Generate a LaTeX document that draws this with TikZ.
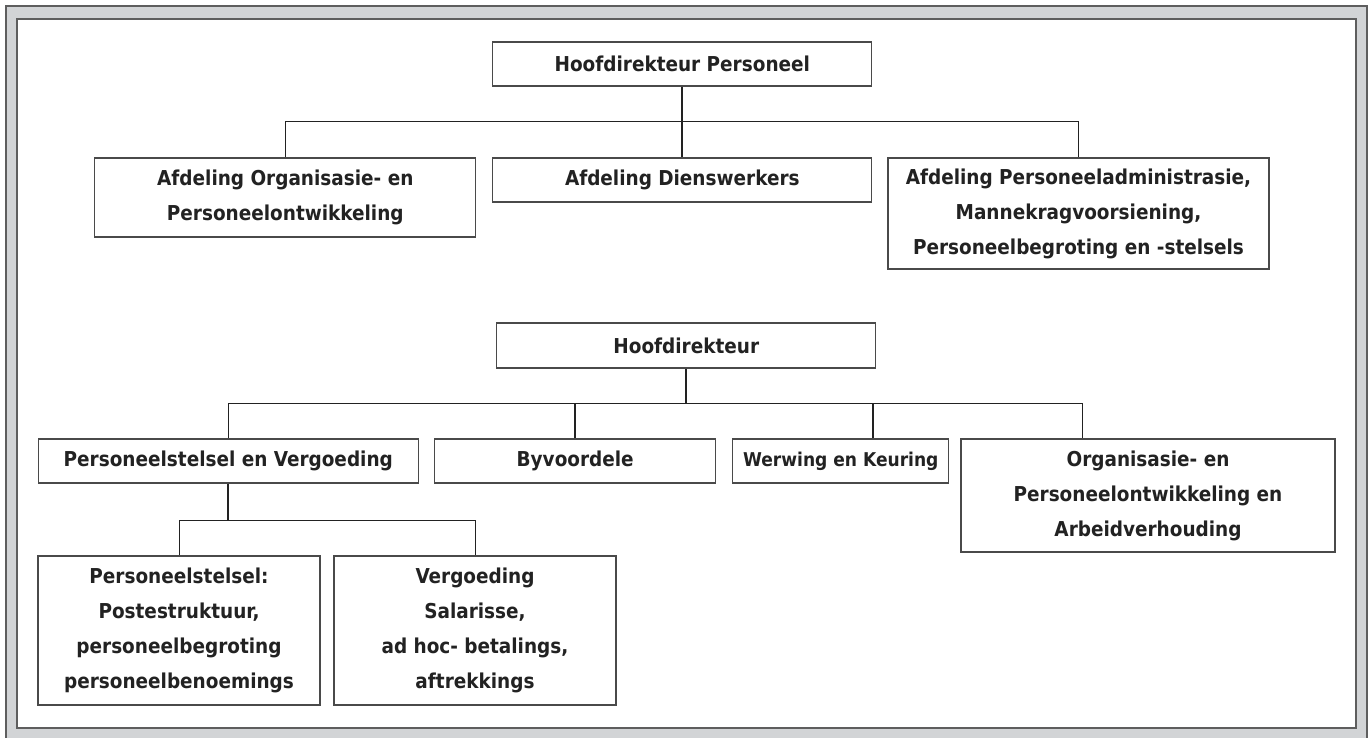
\documentclass[tikz,border=0pt]{standalone}
\usepackage{fontspec}
\setmainfont{DejaVu Sans Condensed}
\definecolor{framegray}{HTML}{D2D4D6}
\definecolor{frameline}{HTML}{5E5E5E}
\definecolor{boxline}{HTML}{4A4A4A}
\definecolor{inkdark}{HTML}{222222}
\begin{document}
\begin{tikzpicture}
      [
        x = 1pt, y = -1pt,
        orgbox/.style = {draw=boxline, line width=1.3pt, fill=white, text=inkdark,
            font=\fontsize{20.5}{35}\selectfont\bfseries, align=center,
            inner sep=0pt, minimum height=44pt},
        bus/.style = {draw=inkdark, line width=1pt},
        stem/.style = {draw=inkdark, line width=1.8pt},
      ]

      \useasboundingbox (0,0) rectangle (1370,737);
      \draw[frameline, line width=1.8pt, fill=framegray] (6,6) rectangle (1367,745);
      \draw[frameline, line width=1.8pt, fill=white] (17,19) rectangle (1356,728);

      \node[orgbox, minimum width=379pt] (hp) at (682.3,64) {Hoofdirekteur Personeel};
      \node[orgbox, minimum width=381pt, minimum height=79pt] (aop) at (285.3,197.5)
          {Afdeling Organisasie- en\\Personeelontwikkeling};
      \node[orgbox, minimum width=379pt] (adw) at (682.3,180) {Afdeling Dienswerkers};
      \node[orgbox, minimum width=381pt, minimum height=111pt] (apa) at (1078.5,213.5)
          {Afdeling Personeeladministrasie,\\Mannekragvoorsiening,\\Personeelbegroting en -stelsels};

      \node[orgbox, minimum width=379pt, minimum height=45pt] (hd) at (686.3,345.5) {Hoofdirekteur};
      \node[orgbox, minimum width=380pt] (psv) at (228.3,461) {Personeelstelsel en Vergoeding};
      \node[orgbox, minimum width=281pt] (byv) at (575.2,461) {Byvoordele};
      \node[orgbox, minimum width=216pt, font=\fontsize{19}{35}\selectfont\bfseries] (wek) at (840.8,461)
          {Werwing en Keuring};
      \node[orgbox, minimum width=374pt, minimum height=113pt] (opa) at (1148,495.5)
          {Organisasie- en\\Personeelontwikkeling en\\Arbeidverhouding};

      \node[orgbox, minimum width=282pt, minimum height=149pt] (pst) at (179,630.5)
          {Personeelstelsel:\\Postestruktuur,\\personeelbegroting\\personeelbenoemings};
      \node[orgbox, minimum width=282pt, minimum height=149pt] (vrg) at (475,630.5)
          {Vergoeding\\Salarisse,\\ad hoc- betalings,\\aftrekkings};

      \coordinate (bus1) at (682.3,121.7);
      \coordinate (bus2) at (686.3,403.3);
      \coordinate (tick3) at (873,403.3);
      \coordinate (tick4) at (1082,403.3);
      \coordinate (bus3) at (228.3,520);

      \draw[stem] (hp) -- (adw);
      \draw[bus] (aop.north) |- (bus1) -| (apa.north);

      \draw[stem] (hd) -- (bus2);
      \draw[bus] (psv.north) |- (tick4) -- (tick4 |- opa.north);
      \draw[stem] (byv.north) -- (byv.north |- bus2);
      \draw[stem] (tick3 |- wek.north) -- (tick3);

      \draw[stem] (psv) -- (bus3);
      \draw[bus] (pst.north) |- (bus3) -| (vrg.north);
    \end{tikzpicture}
\end{document}
